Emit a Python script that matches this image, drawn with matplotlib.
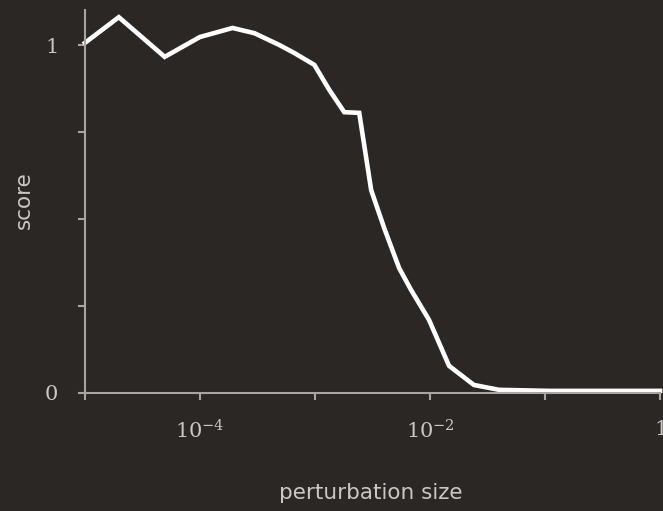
import matplotlib
matplotlib.use('Agg')
import matplotlib.pyplot as plt
import numpy as np

# perturbation size (log10) and score
log_size = [-5.0, -4.705, -4.306, -4.0, -3.716, -3.526, -3.309, -3.179, -3.005,
            -2.875, -2.745, -2.615, -2.511, -2.398, -2.268, -2.164, -2.008,
            -1.834, -1.618, -1.40, -0.967, 0.0]
score = [1.006, 1.080, 0.966, 1.023, 1.049, 1.034, 1.0, 0.977, 0.943,
         0.871, 0.807, 0.805, 0.583, 0.474, 0.359, 0.296, 0.210,
         0.078, 0.023, 0.009, 0.006, 0.006]

xticks = [1e-5, 1e-4, 1e-3, 1e-2, 1e-1, 1]
xticklabels = ['', r'$10^{-4}$', '', r'$10^{-2}$', '', '$1$']
yticks = [0, 0.25, 0.5, 0.75, 1]
yticklabels = ['0', '', '', '', '1']

bg = '#2b2724'
fg = '#cbc7c3'
spine = '#a8a4a0'

plt.rcParams['mathtext.fontset'] = 'dejavuserif'

fig = plt.figure(figsize=(6.63, 5.11), dpi=100, facecolor=bg)
ax = fig.add_axes([0.128, 0.231, 0.8675, 0.749], facecolor=bg)

ax.plot(10 ** np.array(log_size), score, color='white', linewidth=3.3,
        solid_joinstyle='miter', clip_on=False)

ax.set_xscale('log')
ax.set_xlim(1e-5, 1)
ax.set_ylim(0, 1.1)
ax.set_xticks(xticks)
ax.set_xticklabels(xticklabels)
ax.minorticks_off()
ax.set_yticks(yticks)
ax.set_yticklabels(yticklabels, family='DejaVu Serif')

for s in ['top', 'right']:
    ax.spines[s].set_visible(False)
for s in ['left', 'bottom']:
    ax.spines[s].set_color(spine)
    ax.spines[s].set_linewidth(1.5)

ax.tick_params(axis='both', colors=spine, labelcolor=fg, labelsize=15,
               length=5, width=1.5, direction='out')
ax.tick_params(axis='x', pad=14)
ax.tick_params(axis='y', pad=14)

ax.set_xlabel('perturbation size', color=fg, fontsize=15.5)
ax.set_ylabel('score', color=fg, fontsize=15.5)
ax.xaxis.set_label_coords(0.497, -0.24, transform=ax.transAxes)
ax.xaxis.label.set_verticalalignment('center')
ax.xaxis.label.set_y(-0.262)
ax.yaxis.set_label_coords(-0.088, 0.505)

fig.savefig('out.png', dpi=100, facecolor=bg)
